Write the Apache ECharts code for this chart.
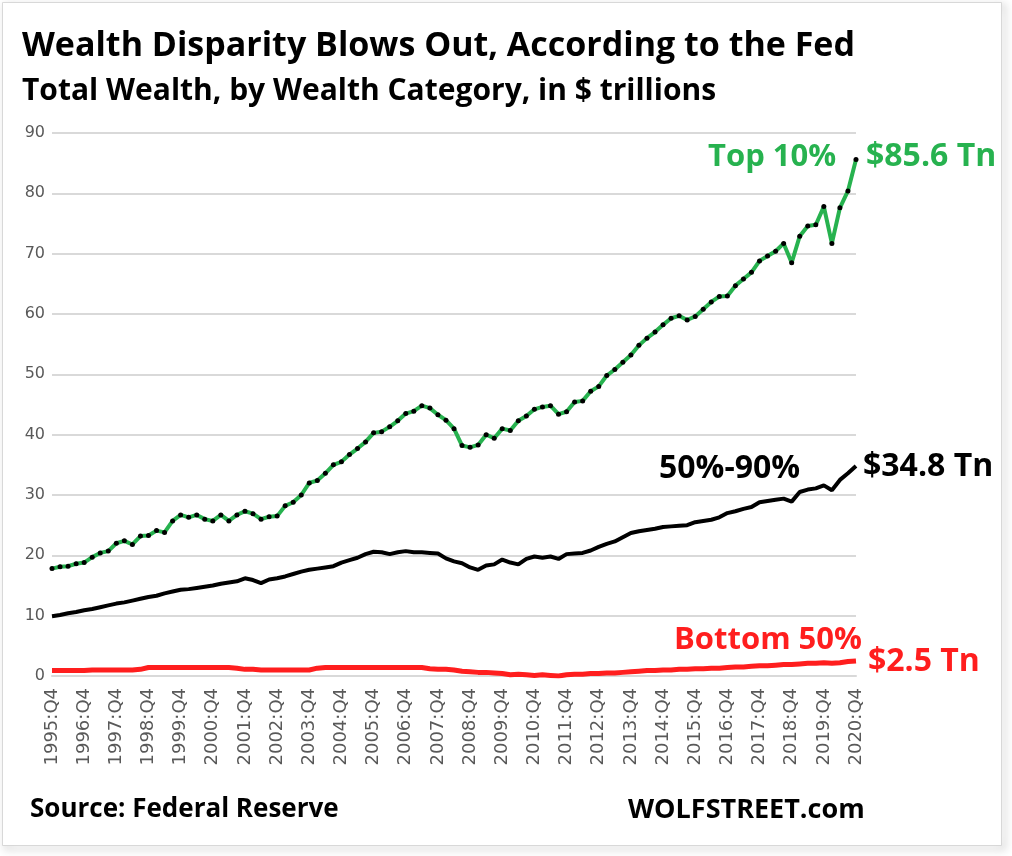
<!DOCTYPE html>
<html><head><meta charset="utf-8">
<script src="https://cdn.jsdelivr.net/npm/echarts@6/dist/echarts.min.js"></script>
<style>html,body{margin:0;padding:0;background:#fff}#c{width:1012px;height:856px}</style>
</head><body><div id="c"></div>
<script>
const quarters = [
  '1995:Q4',
  '1996:Q1','1996:Q2','1996:Q3','1996:Q4',
  '1997:Q1','1997:Q2','1997:Q3','1997:Q4',
  '1998:Q1','1998:Q2','1998:Q3','1998:Q4',
  '1999:Q1','1999:Q2','1999:Q3','1999:Q4',
  '2000:Q1','2000:Q2','2000:Q3','2000:Q4',
  '2001:Q1','2001:Q2','2001:Q3','2001:Q4',
  '2002:Q1','2002:Q2','2002:Q3','2002:Q4',
  '2003:Q1','2003:Q2','2003:Q3','2003:Q4',
  '2004:Q1','2004:Q2','2004:Q3','2004:Q4',
  '2005:Q1','2005:Q2','2005:Q3','2005:Q4',
  '2006:Q1','2006:Q2','2006:Q3','2006:Q4',
  '2007:Q1','2007:Q2','2007:Q3','2007:Q4',
  '2008:Q1','2008:Q2','2008:Q3','2008:Q4',
  '2009:Q1','2009:Q2','2009:Q3','2009:Q4',
  '2010:Q1','2010:Q2','2010:Q3','2010:Q4',
  '2011:Q1','2011:Q2','2011:Q3','2011:Q4',
  '2012:Q1','2012:Q2','2012:Q3','2012:Q4',
  '2013:Q1','2013:Q2','2013:Q3','2013:Q4',
  '2014:Q1','2014:Q2','2014:Q3','2014:Q4',
  '2015:Q1','2015:Q2','2015:Q3','2015:Q4',
  '2016:Q1','2016:Q2','2016:Q3','2016:Q4',
  '2017:Q1','2017:Q2','2017:Q3','2017:Q4',
  '2018:Q1','2018:Q2','2018:Q3','2018:Q4',
  '2019:Q1','2019:Q2','2019:Q3','2019:Q4',
  '2020:Q1','2020:Q2','2020:Q3','2020:Q4'
];

// Top 10%, $ trillions
const top10 = [
  17.8,
  18.1, 18.2, 18.6, 18.8,
  19.7, 20.4, 20.7, 22.0,
  22.4, 21.8, 23.2, 23.3,
  24.1, 23.8, 25.7, 26.7,
  26.3, 26.7, 26.0, 25.7,
  26.7, 25.7, 26.7, 27.3,
  26.9, 26.0, 26.4, 26.5,
  28.2, 28.8, 30.0, 32.0,
  32.4, 33.6, 35.0, 35.5,
  36.7, 37.7, 38.8, 40.3,
  40.5, 41.3, 42.3, 43.5,
  43.9, 44.8, 44.4, 43.3,
  42.4, 41.0, 38.2, 37.9,
  38.3, 40.0, 39.4, 41.0,
  40.7, 42.3, 43.1, 44.2,
  44.6, 44.8, 43.4, 43.8,
  45.4, 45.6, 47.2, 48.0,
  49.8, 50.8, 52.0, 53.2,
  54.8, 56.0, 57.0, 58.2,
  59.3, 59.7, 59.0, 59.6,
  60.8, 62.0, 62.9, 63.0,
  64.7, 65.8, 66.9, 68.8,
  69.6, 70.4, 71.7, 68.5,
  72.9, 74.6, 74.8, 77.8,
  71.7, 77.6, 80.4, 85.6
];

// 50%-90%, $ trillions
const mid50to90 = [
  9.9,
  10.1, 10.4, 10.6, 10.9,
  11.1, 11.4, 11.7, 12.0,
  12.2, 12.5, 12.8, 13.1,
  13.3, 13.7, 14.0, 14.3,
  14.4, 14.6, 14.8, 15.0,
  15.3, 15.5, 15.7, 16.2,
  15.9, 15.4, 16.0, 16.2,
  16.5, 16.9, 17.3, 17.6,
  17.8, 18.0, 18.2, 18.8,
  19.2, 19.6, 20.2, 20.6,
  20.5, 20.2, 20.5, 20.7,
  20.5, 20.5, 20.4, 20.3,
  19.5, 19.0, 18.7, 18.0,
  17.6, 18.3, 18.5, 19.3,
  18.8, 18.5, 19.4, 19.8,
  19.6, 19.8, 19.4, 20.2,
  20.3, 20.4, 20.8, 21.4,
  21.9, 22.3, 23.0, 23.7,
  24.0, 24.2, 24.4, 24.7,
  24.8, 24.9, 25.0, 25.5,
  25.7, 25.9, 26.3, 27.0,
  27.3, 27.7, 28.0, 28.8,
  29.0, 29.2, 29.4, 28.9,
  30.5, 30.9, 31.1, 31.6,
  30.8, 32.5, 33.6, 34.8
];

// Bottom 50%, $ trillions
const bottom50 = [
  0.9,
  0.9, 0.9, 0.9, 0.9,
  1.0, 1.0, 1.0, 1.0,
  1.0, 1.0, 1.1, 1.4,
  1.4, 1.4, 1.4, 1.4,
  1.4, 1.4, 1.4, 1.4,
  1.4, 1.4, 1.3, 1.1,
  1.1, 1.0, 1.0, 1.0,
  1.0, 1.0, 1.0, 1.0,
  1.3, 1.4, 1.4, 1.4,
  1.4, 1.4, 1.4, 1.4,
  1.4, 1.4, 1.4, 1.4,
  1.4, 1.4, 1.2, 1.1,
  1.1, 1.0, 0.8, 0.7,
  0.6, 0.6, 0.5, 0.4,
  0.2, 0.3, 0.2, 0.1,
  0.2, 0.1, 0.0, 0.2,
  0.3, 0.3, 0.4, 0.4,
  0.5, 0.5, 0.6, 0.7,
  0.8, 0.9, 0.9, 1.0,
  1.0, 1.1, 1.1, 1.2,
  1.2, 1.3, 1.3, 1.4,
  1.5, 1.5, 1.6, 1.7,
  1.7, 1.8, 1.9, 1.9,
  2.0, 2.1, 2.1, 2.2,
  2.1, 2.2, 2.4, 2.5
];

const seriesNames = ['Top 10%', '50%-90%', 'Bottom 50%'];
const titleText = 'Wealth Disparity Blows Out, According to the Fed';
const subtitleText = 'Total Wealth, by Wealth Category, in $ trillions';
const sourceText = 'Source: Federal Reserve';
const brandText = 'WOLFSTREET.com';

const GREEN = '#27b24f';
const RED = '#ff1e1e';
const BLACK = '#000000';
const FONT = '"Open Sans"';

const chart = echarts.init(document.getElementById('c'), null, {renderer: 'canvas'});

function endLbl(color, offset) {
  return {
    show: true,
    formatter: p => '$' + p.value.toFixed(1) + ' Tn',
    color: color,
    fontFamily: 'Open Sans',
    fontWeight: 'bold',
    fontSize: 32,
    distance: 12,
    offset: offset
  };
}

const option = {
  backgroundColor: '#ffffff',
  animation: false,
  grid: {left: 52, right: 156, top: 133, bottom: 180, containLabel: false},
  xAxis: {
    type: 'category',
    data: quarters,
    boundaryGap: false,
    axisLine: {show: true, lineStyle: {color: '#d9d9d9', width: 2}},
    axisTick: {show: false},
    axisLabel: {
      interval: 3,
      rotate: 90,
      margin: 12,
      color: '#595959',
      fontFamily: 'DejaVu Sans',
      fontSize: 18
    },
    splitLine: {show: false}
  },
  yAxis: {
    type: 'value',
    min: 0, max: 90, interval: 10,
    axisLine: {show: false},
    axisTick: {show: false},
    axisLabel: {color: '#595959', fontFamily: 'DejaVu Sans', fontSize: 16, margin: 7},
    splitLine: {show: true, lineStyle: {color: '#d9d9d9', width: 2}}
  },
  series: [
    {
      name: seriesNames[2], type: 'line', data: bottom50,
      symbol: 'none', lineStyle: {color: RED, width: 5}, z: 3,
      endLabel: endLbl(RED, [0, 1])
    },
    {
      name: seriesNames[1], type: 'line', data: mid50to90,
      symbol: 'none', lineStyle: {color: BLACK, width: 4}, z: 4,
      endLabel: endLbl(BLACK, [-5, 1])
    },
    {
      name: seriesNames[0], type: 'line', data: top10,
      symbol: 'circle', symbolSize: 5, showAllSymbol: true,
      itemStyle: {color: BLACK, borderWidth: 0},
      lineStyle: {color: GREEN, width: 4}, z: 5,
      endLabel: endLbl(GREEN, [-2, -3])
    }
  ],
  graphic: [
    {type: 'rect', shape: {x: 3, y: 3, width: 998, height: 842},
     style: {fill: 'none', stroke: '#cfcfcf', lineWidth: 1.5,
             shadowBlur: 8, shadowOffsetX: 3, shadowOffsetY: 3, shadowColor: 'rgba(0,0,0,0.45)'}, z: -10, silent: true},
    {type: 'rect', shape: {x: 3, y: 3, width: 998, height: 842},
     style: {fill: '#ffffff'}, z: -9, silent: true},
    {type: 'text', left: 22, top: 29, style: {text: titleText, fill: '#000', font: 'bold 34px ' + FONT}},
    {type: 'text', left: 22, top: 76, style: {text: subtitleText, fill: '#000', font: 'bold 30px ' + FONT}},
    {type: 'text', left: 708, top: 142, style: {text: seriesNames[0], fill: GREEN, font: 'bold 31px ' + FONT}},
    {type: 'text', left: 659, top: 453, style: {text: seriesNames[1], fill: BLACK, font: 'bold 32px ' + FONT}},
    {type: 'text', left: 674, top: 625, style: {text: seriesNames[2], fill: RED, font: 'bold 31px ' + FONT}},
    {type: 'text', left: 30, top: 797, style: {text: sourceText, fill: '#000', font: 'bold 26px ' + FONT}},
    {type: 'text', left: 628, top: 797, style: {text: brandText, fill: '#000', font: 'bold 27px ' + FONT}}
  ]
};
chart.setOption(option);
</script>
</body></html>
